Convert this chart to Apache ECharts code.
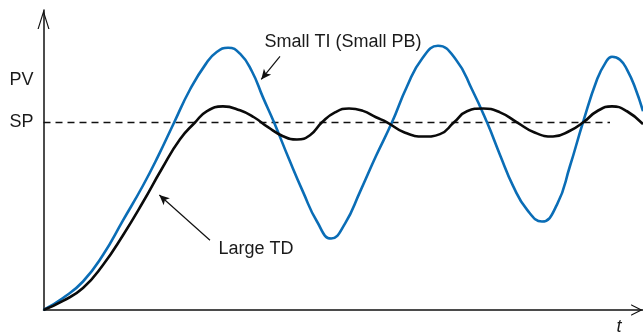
<!DOCTYPE html>
<html>
<head>
<meta charset="utf-8">
<script src="https://cdn.jsdelivr.net/npm/echarts@6/dist/echarts.min.js"></script>
<style>
html,body{margin:0;padding:0;background:#fff;}
#chart{width:643px;height:336px;}
</style>
</head>
<body>
<div id="chart"></div>
<script>
// Time (arbitrary units) and process values (SP = 1)
const blueT = [0,3.25,6.59,9.92,13.26,16.60,19.10,21.77,24.44,27.11,28.94,30.78,32.78,34.78,36.61,38.45,40.95,43.29,45.62,47.96,50.29,52.79,55.46,58.13,60.63,63.14,65.80,68.81,71.48,73.98,76.15,78.32,80.65,83.15,85.65,87.82,89.99,92.33,93.66,94.83,96.16,97.33,98.67,100];
const blueV = [0,0.064,0.152,0.293,0.478,0.664,0.819,0.999,1.176,1.314,1.377,1.399,1.367,1.272,1.134,1.001,0.805,0.630,0.472,0.381,0.461,0.630,0.821,1.001,1.192,1.340,1.409,1.335,1.176,1.001,0.827,0.662,0.535,0.472,0.562,0.768,1.001,1.229,1.314,1.351,1.335,1.282,1.187,1.060];
const blackT = [0,3.25,6.59,9.92,13.26,16.60,19.72,22.77,25.27,27.27,29.94,32.78,35.11,37.45,39.95,42.28,44.45,46.45,48.62,50.96,53.29,55.46,57.30,60.13,63.47,66.14,68.48,70.64,73.31,76.15,78.98,81.82,84.99,87.82,90.16,92.33,94.83,97.33,100];
const blackV = [0,0.049,0.117,0.240,0.399,0.576,0.752,0.911,1.0,1.061,1.086,1.065,1.028,0.975,0.927,0.909,0.932,1.001,1.054,1.075,1.062,1.028,1.001,0.948,0.925,0.938,1.001,1.060,1.075,1.054,1.001,0.948,0.925,0.956,1.004,1.060,1.086,1.060,0.991];
const spT = [0, 94.5];
const spV = [1, 1];
const yLabelValues = [1.0, 1.229];
const yLabelTexts = ['SP', 'PV'];
const xLabelValues = [96];
const xLabelTexts = ['t'];
const blueNote = {text: 'Small TI (Small PB)', at: [49.96, 1.428], from: [39.45, 1.353], to: [36.32, 1.230]};
const blackNote = {text: 'Large TD', at: [35.43, 0.323], from: [27.77, 0.372], to: [19.32, 0.613]};

const zip = (a, b) => a.map((v, i) => [v, b[i]]);
const FONT = '"Liberation Sans", Arial, Helvetica, sans-serif';
const BLUE = '#0a6db6';

const chart = echarts.init(document.getElementById('chart'), null, {renderer: 'canvas'});

function note(n) {
  return {
    markPoint: {
      symbol: 'circle', symbolSize: 0, silent: true,
      label: {show: true, position: 'inside', formatter: n.text, color: '#1a1a1a',
              fontFamily: FONT, fontSize: 18},
      data: [{coord: n.at}]
    },
    markLine: {
      silent: true, symbol: ['none', 'arrow'], symbolSize: 9,
      lineStyle: {color: '#111', width: 1.2, type: 'solid'},
      label: {show: false},
      data: [[{coord: n.from}, {coord: n.to, symbolSize: [7, 10]}]]
    }
  };
}

const option = {
  animation: false,
  grid: {left: 43.5, right: 0, top: 10, bottom: 24, containLabel: false},
  xAxis: {
    type: 'value', min: 0, max: 100,
    axisLine: {show: true, onZero: true,
      lineStyle: {color: '#111', width: 1.5},
      symbol: ['none', 'path://M0,12 L6,0 L12,12 L10.6,12 L6,2.6 L1.4,12 Z'],
      symbolSize: [11.5, 12.3], symbolOffset: [0, -6.1]},
    axisTick: {show: false},
    splitLine: {show: false},
    axisLabel: {show: true, customValues: xLabelValues, margin: 8,
      formatter: v => xLabelTexts[xLabelValues.indexOf(v)] || '',
      fontStyle: 'italic', fontFamily: FONT, fontSize: 18, color: '#1a1a1a'}
  },
  yAxis: {
    type: 'value', min: 0, max: 1.6,
    axisLine: {show: true,
      lineStyle: {color: '#111', width: 1.5},
      symbol: ['none', 'path://M0,19 L6,0 L12,19 L10.8,19 L6,3.8 L1.2,19 Z'],
      symbolSize: [12.5, 19], symbolOffset: [0, -9.5]},
    axisTick: {show: false},
    splitLine: {show: false},
    axisLabel: {show: true, customValues: yLabelValues, margin: 10,
      formatter: v => yLabelTexts[yLabelValues.indexOf(v)] || '',
      fontFamily: FONT, fontSize: 18, color: '#1a1a1a'}
  },
  series: [
    {
      type: 'line', data: zip(spT, spV), showSymbol: false, silent: true,
      lineStyle: {color: '#111', width: 1.3, type: [7, 5]}, z: 1
    },
    Object.assign({
      type: 'line', data: zip(blueT, blueV), smooth: 0.5, showSymbol: false,
      lineStyle: {color: BLUE, width: 2.6}, z: 2
    }, note(blueNote)),
    Object.assign({
      type: 'line', data: zip(blackT, blackV), smooth: 0.5, showSymbol: false,
      lineStyle: {color: '#0a0a0a', width: 2.6}, z: 3
    }, note(blackNote))
  ]
};
chart.setOption(option);
</script>
</body>
</html>
